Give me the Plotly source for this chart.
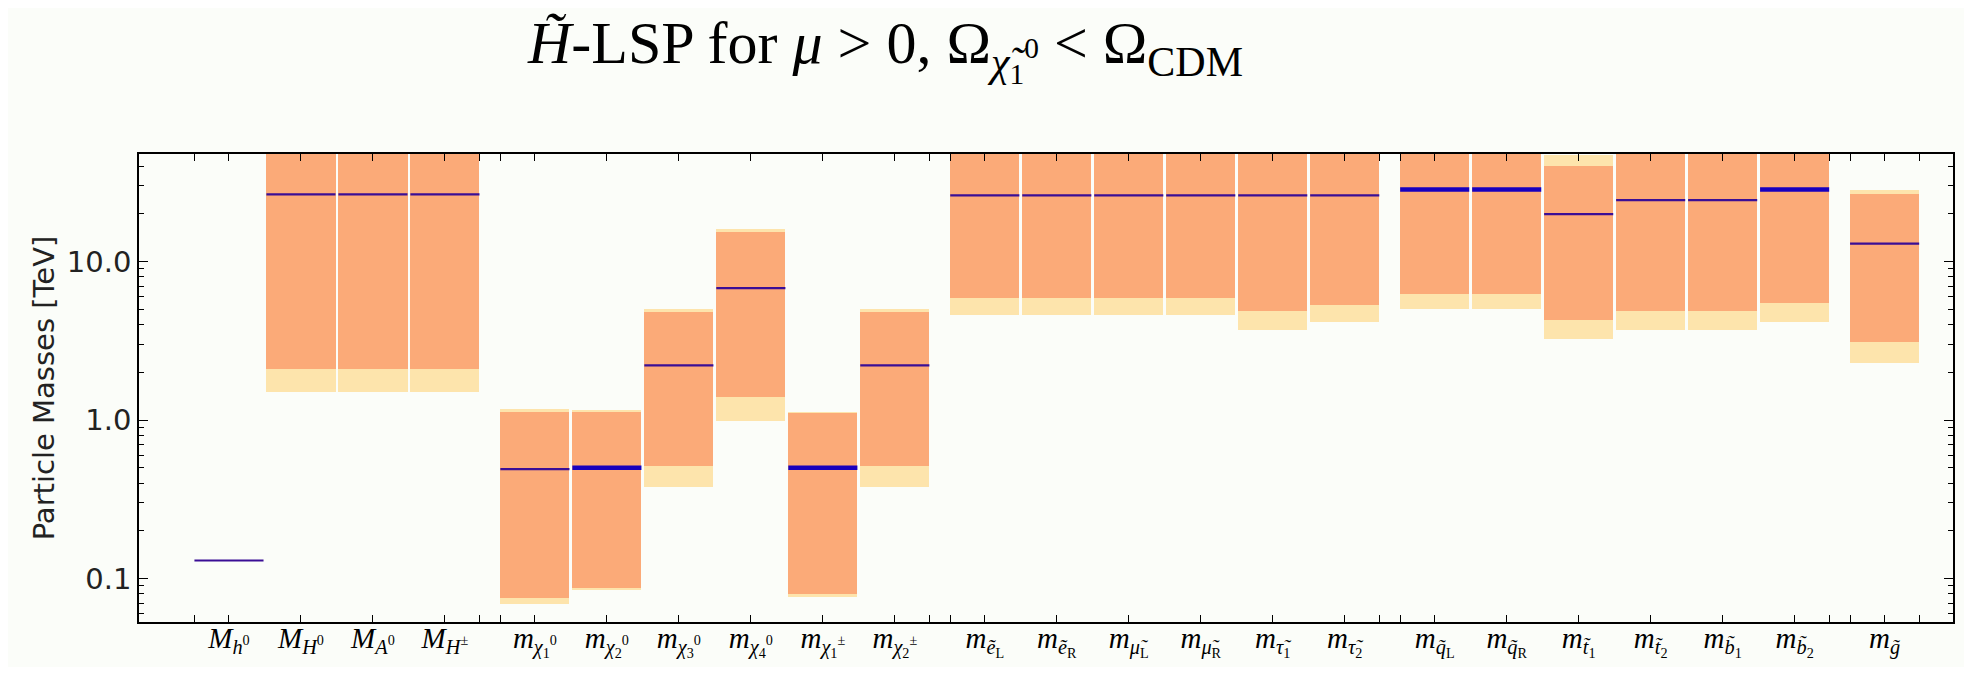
import plotly.graph_objects as go

# ---------------- data ----------------
labels = [
    "<i>M</i><sub><i>h</i><sup>0</sup></sub>",
    "<i>M</i><sub><i>H</i><sup>0</sup></sub>",
    "<i>M</i><sub><i>A</i><sup>0</sup></sub>",
    "<i>M</i><sub><i>H</i><sup>±</sup></sub>",
    "<i>m</i><sub><i>χ</i><sub>1</sub><sup>0</sup></sub>",
    "<i>m</i><sub><i>χ</i><sub>2</sub><sup>0</sup></sub>",
    "<i>m</i><sub><i>χ</i><sub>3</sub><sup>0</sup></sub>",
    "<i>m</i><sub><i>χ</i><sub>4</sub><sup>0</sup></sub>",
    "<i>m</i><sub><i>χ</i><sub>1</sub><sup>±</sup></sub>",
    "<i>m</i><sub><i>χ</i><sub>2</sub><sup>±</sup></sub>",
    "<i>m</i><sub><i>ẽ</i><sub>L</sub></sub>",
    "<i>m</i><sub><i>ẽ</i><sub>R</sub></sub>",
    "<i>m</i><sub><i>μ̃</i><sub>L</sub></sub>",
    "<i>m</i><sub><i>μ̃</i><sub>R</sub></sub>",
    "<i>m</i><sub><i>τ̃</i><sub>1</sub></sub>",
    "<i>m</i><sub><i>τ̃</i><sub>2</sub></sub>",
    "<i>m</i><sub><i>q̃</i><sub>L</sub></sub>",
    "<i>m</i><sub><i>q̃</i><sub>R</sub></sub>",
    "<i>m</i><sub><i>t̃</i><sub>1</sub></sub>",
    "<i>m</i><sub><i>t̃</i><sub>2</sub></sub>",
    "<i>m</i><sub><i>b̃</i><sub>1</sub></sub>",
    "<i>m</i><sub><i>b̃</i><sub>2</sub></sub>",
    "<i>m</i><sub><i>g̃</i></sub>",
]
group = [0, 0, 0, 0, 1, 1, 1, 1, 1, 1, 2, 2, 2, 2, 2, 2, 3, 3, 3, 3, 3, 3, 4]

# masses in TeV (100 = beyond the top of the chart)
outer_low  = [None, 1.50, 1.50, 1.50, 0.069, 0.085, 0.38, 0.98, 0.077, 0.38,
              4.6, 4.6, 4.6, 4.6, 3.72, 4.18, 5.0, 5.0, 3.24, 3.72, 3.72, 4.18, 2.28]
inner_low  = [None, 2.11, 2.11, 2.11, 0.0755, 0.0875, 0.51, 1.40, 0.080, 0.51,
              5.9, 5.9, 5.9, 5.9, 4.89, 5.34, 6.26, 6.26, 4.26, 4.89, 4.89, 5.48, 3.12]
central    = [0.13, 26.5, 26.5, 26.5, 0.49, 0.50, 2.21, 6.8, 0.50, 2.21,
              26.1, 26.1, 26.1, 26.1, 26.1, 26.1, 28.4, 28.4, 19.9, 24.4, 24.4, 28.4, 12.97]
inner_high = [None, 100, 100, 100, 1.13, 1.12, 4.8, 15.3, 1.10, 4.8,
              100, 100, 100, 100, 100, 100, 100, 100, 40.1, 100, 100, 100, 26.8]
outer_high = [None, 100, 100, 100, 1.17, 1.15, 5.0, 16.0, 1.13, 5.0,
              100, 100, 100, 100, 100, 100, 100, 100, 47.0, 100, 100, 100, 28.1]

ytick_vals = [0.1, 1, 10]
ytick_text = ["0.1", "1.0", "10.0"]

# ---------------- styles ----------------
ORANGE = "#FBAA78"
LIGHT = "#FDE4AC"
BG = "#FBFDF9"
BAR_W = 0.96
GROUP_GAP = 0.25
bold_idx = {5, 8, 16, 17, 21}

x = [i + GROUP_GAP * g for i, g in enumerate(group)]

def spans(lo, hi):
    base, length = [], []
    for a, b in zip(lo, hi):
        if a is None:
            base.append(None); length.append(None)
        else:
            base.append(a); length.append(b - a)
    return base, length

fig = go.Figure()
ob, ol = spans(outer_low, outer_high)
ib, il = spans(inner_low, inner_high)
fig.add_trace(go.Bar(x=x, y=ol, base=ob, width=BAR_W, marker=dict(color=LIGHT, line=dict(width=0)),
                     showlegend=False, hoverinfo="skip"))
fig.add_trace(go.Bar(x=x, y=il, base=ib, width=BAR_W, marker=dict(color=ORANGE, line=dict(width=0)),
                     showlegend=False, hoverinfo="skip"))

# central-value lines
thin_x, thin_y, bold_x, bold_y = [], [], [], []
for i, (xc, v) in enumerate(zip(x, central)):
    sx = [xc - BAR_W / 2, xc + BAR_W / 2, None]
    sy = [v, v, None]
    if i in bold_idx:
        bold_x += sx; bold_y += sy
    else:
        thin_x += sx; thin_y += sy
fig.add_trace(go.Scatter(x=thin_x, y=thin_y, mode="lines", line=dict(color="#3A0E96", width=2.2),
                         showlegend=False, hoverinfo="skip"))
fig.add_trace(go.Scatter(x=bold_x, y=bold_y, mode="lines", line=dict(color="#1800BE", width=4.5),
                         showlegend=False, hoverinfo="skip"))

# ticks at group edges
edge_ticks = []
for g in sorted(set(group)):
    xs = [xx for xx, gg in zip(x, group) if gg == g]
    edge_ticks += [min(xs) - BAR_W / 2, max(xs) + BAR_W / 2]

minor_y = [m * d for d in (0.01, 0.1, 1, 10) for m in range(2, 10) if 0.053 < m * d < 48]

# the page body adds an 8 px margin, so the figure is sized to fit the window
fig.update_layout(
    width=1956, height=659,
    margin=dict(l=131, r=11, t=146, b=45, autoexpand=False),
    paper_bgcolor=BG, plot_bgcolor=BG,
    barmode="overlay", bargap=0,
    title=dict(
        text="<i>H̃</i>-LSP for <i>μ</i> &gt; 0, Ω<sub><i>χ̃</i><sub>1</sub><sup>0</sup></sub> &lt; Ω<sub>CDM</sub>",
        font=dict(family="Liberation Serif", size=60, color="black"),
        xref="container", x=520 / 1956, xanchor="left",
        yref="container", y=1 - 34 / 659, yanchor="middle",
    ),
)
fig.update_xaxes(
    automargin=False,
    range=[-1.25, 23.95],
    tickmode="array", tickvals=x, ticktext=labels,
    ticks="inside", ticklen=7, tickwidth=1.2, tickcolor="black",
    ticklabelstandoff=-11,
    minor=dict(tickmode="array", tickvals=edge_ticks, ticks="inside", ticklen=7, tickwidth=1.2, tickcolor="black"),
    showline=True, linecolor="black", linewidth=1.5, mirror="allticks",
    showgrid=False, zeroline=False,
    tickfont=dict(family="Liberation Serif", size=29, color="black"),
)
fig.update_yaxes(
    automargin=False,
    type="log", range=[-1.274, 1.678],
    tickmode="array", tickvals=ytick_vals, ticktext=ytick_text,
    ticks="inside", ticklen=9, tickwidth=1.2, tickcolor="black",
    minor=dict(tickmode="array", tickvals=minor_y, ticks="inside", ticklen=5, tickwidth=1, tickcolor="black"),
    showline=True, linecolor="black", linewidth=1.5, mirror="allticks",
    showgrid=False, zeroline=False,
    tickfont=dict(family="DejaVu Sans", size=29, color="#222222"),
    title=dict(text="Particle Masses [TeV]", font=dict(family="DejaVu Sans", size=29, color="#222222"),
               standoff=4),
)

fig.write_html("out.html")
